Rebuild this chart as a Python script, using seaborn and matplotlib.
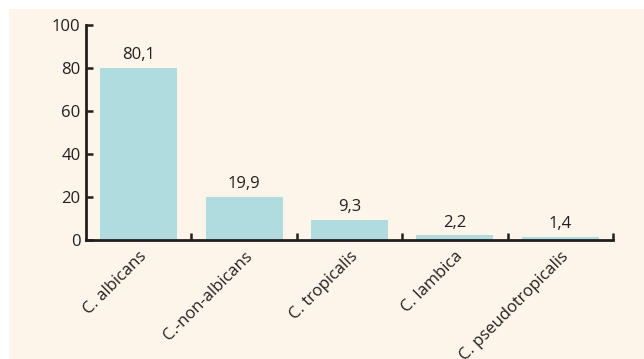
import matplotlib
matplotlib.use("Agg")
import matplotlib.pyplot as plt
import matplotlib.transforms as mtransforms
import seaborn as sns
import pandas as pd
from matplotlib.patches import Rectangle
from matplotlib.ticker import FixedLocator

categories = ["C. albicans", "C.-non-albicans", "C. tropicalis", "C. lambica", "C. pseudotropicalis"]
values = [80.1, 19.9, 9.3, 2.2, 1.4]
value_labels = ["80,1", "19,9", "9,3", "2,2", "1,4"]
y_ticks = [0, 20, 40, 60, 80, 100]

sns.set_theme(style="white")
plt.rcParams['font.family'] = ['Open Sans', 'DejaVu Sans']

cream = "#fdf4ea"
bar_color = "#b0dce0"
ink = "#231f20"

fig = plt.figure(figsize=(6.44, 3.59), dpi=100, facecolor="white")
fig.patches.append(Rectangle((9/644, 0), 1 - 9/644, 1 - 9/359, transform=fig.transFigure,
                             facecolor=cream, edgecolor="none", zorder=-10))
ax = fig.add_axes([86/644, 1 - 240/359, (613 - 86)/644, (240 - 25)/359])
ax.set_facecolor("none")

df = pd.DataFrame({"cat": categories, "val": values})
sns.barplot(data=df, x="cat", y="val", color=bar_color, width=0.73, ax=ax,
            saturation=1, edgecolor="none")

for i, (v, lab) in enumerate(zip(values, value_labels)):
    ax.text(i, v + 2.2, lab, ha="center", va="bottom", fontsize=12, color=ink)

ax.set_xlim(-0.5, 4.5)
ax.set_ylim(0, 100)
ax.set_yticks(y_ticks)
ax.set_yticklabels([str(t) for t in y_ticks], fontsize=12, color=ink)
ax.set_xlabel("")
ax.set_ylabel("")

ax.set_xticks(range(len(categories)))
ax.set_xticklabels(categories, rotation=45, ha="right", rotation_mode="anchor",
                   fontsize=12, color=ink)
offset = mtransforms.ScaledTranslation(0/100, -2/100, fig.dpi_scale_trans)
for lbl in ax.get_xticklabels():
    lbl.set_transform(lbl.get_transform() + offset)
ax.tick_params(axis="x", which="major", bottom=True, length=0, pad=6)
ax.xaxis.set_minor_locator(FixedLocator([0.5, 1.5, 2.5, 3.5, 4.5]))
ax.tick_params(axis="x", which="minor", bottom=True, direction="in", length=5, width=1.8, color=ink)
ax.tick_params(axis="y", which="major", left=True, direction="in", length=5, width=1.8, color=ink, pad=4)

for s in ["top", "right"]:
    ax.spines[s].set_visible(False)
for s in ["left", "bottom"]:
    ax.spines[s].set_linewidth(2)
    ax.spines[s].set_color(ink)

fig.savefig("out.png", dpi=100, facecolor="white")
